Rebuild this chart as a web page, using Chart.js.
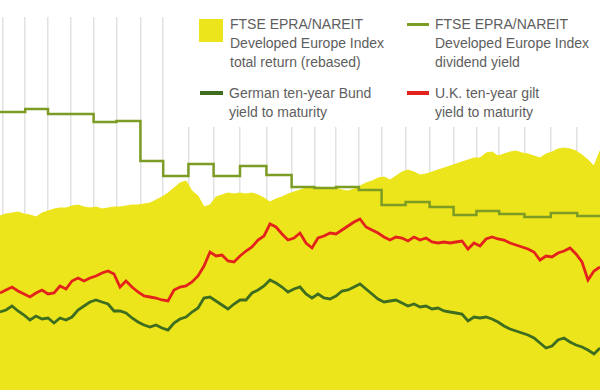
<!DOCTYPE html>
<html><head><meta charset="utf-8">
<script src="https://cdn.jsdelivr.net/npm/chart.js@4/dist/chart.umd.min.js"></script>
<style>
html,body{margin:0;padding:0;background:#fff;}
#wrap{position:relative;width:600px;height:390px;overflow:hidden;}
canvas{display:block;}
#legend{position:absolute;left:175px;top:0;width:425px;height:127px;background:#fff;font-family:"Liberation Sans",Arial,sans-serif;font-size:14px;line-height:19.2px;color:#5e5e5e;}
.txt{position:absolute;white-space:nowrap;}
.sw{position:absolute;}
</style></head><body>
<div id="wrap">
<canvas id="c" width="600" height="390"></canvas>
<div id="legend"></div>
</div>
<script>
// Trading-day index at which each month starts (vertical grid lines)
const monthStarts = [2, 21, 40, 59, 78, 97, 117, 136, 157, 178, 200, 222, 243, 262, 280, 299, 318, 338, 358, 378, 397, 416, 437, 459, 481];
const dayMax = 500;
const sampleStep = 5; // one reading every 5 trading days

// FTSE EPRA/NAREIT Developed Europe Index total return (rebased)
const totalReturn = [98.5, 99.5, 100, 100.5, 99.5, 99, 98, 100, 101, 102,
  102.5, 102.5, 103.5, 104, 103, 102.5, 103, 102, 102.5, 103,
  103, 103.5, 104, 104, 104.5, 105, 106.5, 108, 110, 112.5,
  115, 116, 111, 108.5, 103, 104, 108, 109, 110, 109.5,
  110, 109.5, 110, 109, 107.5, 105.5, 107, 108, 109.5, 110.5,
  111.5, 112.5, 112.5, 113, 112.5, 112, 112.5, 111.5, 111, 112,
  113.5, 115, 116, 117.5, 118, 116.5, 118.5, 120.5, 121.5, 120.5,
  119, 119.5, 120.5, 121.5, 122.5, 123.5, 124.5, 125.5, 126.5, 127.5,
  127.5, 130, 130.5, 128.5, 129.5, 130.5, 131, 130, 129.5, 128.5,
  127.5, 129.5, 130.5, 132, 132.5, 132, 131, 129, 126.5, 123.5,
  131];

// Dividend yield (%), one value per month (monthly steps)
const divYield = [3.38, 3.41, 3.36, 3.36, 3.28, 3.29, 2.89, 2.74, 2.86, 2.74, 2.84, 2.75, 2.63, 2.62, 2.63, 2.60, 2.45, 2.48, 2.43, 2.35, 2.39, 2.36, 2.33, 2.37, 2.34];

// U.K. ten-year gilt yield to maturity (%)
const giltYield = [1.57, 1.60, 1.63, 1.59, 1.56, 1.53, 1.57, 1.60, 1.56, 1.57,
  1.64, 1.61, 1.69, 1.72, 1.69, 1.72, 1.74, 1.77, 1.79, 1.76,
  1.63, 1.69, 1.63, 1.58, 1.54, 1.53, 1.52, 1.50, 1.49, 1.60,
  1.63, 1.64, 1.68, 1.74, 1.84, 1.98, 1.94, 1.95, 1.89, 1.88,
  1.94, 1.99, 2.03, 2.10, 2.14, 2.26, 2.23, 2.16, 2.10, 2.12,
  2.17, 2.07, 2.02, 2.12, 2.14, 2.17, 2.16, 2.20, 2.24, 2.28,
  2.31, 2.23, 2.20, 2.17, 2.13, 2.10, 2.13, 2.12, 2.09, 2.13,
  2.10, 2.12, 2.08, 2.07, 2.08, 2.07, 2.08, 2.09, 2.01, 2.07,
  2.04, 2.11, 2.13, 2.11, 2.10, 2.07, 2.05, 2.03, 2.01, 1.98,
  1.90, 1.94, 1.93, 1.97, 1.99, 2.02, 1.96, 1.88, 1.70, 1.79,
  1.83];

// German ten-year Bund yield to maturity (%)
const bundYield = [1.38, 1.40, 1.44, 1.39, 1.35, 1.30, 1.34, 1.31, 1.32, 1.27,
  1.32, 1.30, 1.33, 1.40, 1.44, 1.48, 1.50, 1.48, 1.46, 1.39,
  1.39, 1.37, 1.32, 1.28, 1.25, 1.23, 1.25, 1.22, 1.20, 1.27,
  1.31, 1.33, 1.38, 1.42, 1.52, 1.53, 1.49, 1.45, 1.41, 1.46,
  1.50, 1.50, 1.57, 1.60, 1.64, 1.70, 1.67, 1.63, 1.58, 1.61,
  1.63, 1.56, 1.52, 1.56, 1.52, 1.51, 1.54, 1.59, 1.60, 1.63,
  1.66, 1.61, 1.56, 1.51, 1.48, 1.49, 1.50, 1.47, 1.44, 1.46,
  1.43, 1.44, 1.41, 1.42, 1.39, 1.38, 1.37, 1.36, 1.29, 1.33,
  1.32, 1.33, 1.31, 1.28, 1.24, 1.21, 1.19, 1.17, 1.15, 1.12,
  1.07, 1.02, 1.04, 1.10, 1.12, 1.08, 1.05, 1.03, 1.00, 0.96,
  1.02];

const legendLabels = [
  'FTSE EPRA/NAREIT<br>Developed Europe Index<br>total return (rebased)',
  'FTSE EPRA/NAREIT<br>Developed Europe Index<br>dividend yield',
  'German ten-year Bund<br>yield to maturity',
  'U.K. ten-year gilt<br>yield to maturity'
];

const colors = { index: '#ece51c', div: '#7c9c24', bund: '#3f6d1f', gilt: '#e3221c', grid: '#e2e2e2' };

const toXY = arr => arr.map((v, i) => ({ x: i * sampleStep, y: v }));
const divPts = [{ x: 0, y: divYield[0] }]
  .concat(monthStarts.map((d, i) => ({ x: d, y: divYield[i] })))
  .concat([{ x: dayMax, y: divYield[divYield.length - 1] }]);

new Chart(document.getElementById('c'), {
  type: 'line',
  data: {
    datasets: [
      { label: 'gilt', data: toXY(giltYield), yAxisID: 'yy', borderColor: colors.gilt, borderWidth: 2.8, pointRadius: 0, tension: 0, fill: false, order: 1 },
      { label: 'bund', data: toXY(bundYield), yAxisID: 'yy', borderColor: colors.bund, borderWidth: 2.8, pointRadius: 0, tension: 0, fill: false, order: 2 },
      { label: 'div', data: divPts, yAxisID: 'yy', borderColor: colors.div, borderWidth: 2.5, pointRadius: 0, stepped: true, fill: false, order: 3 },
      { label: 'index', data: toXY(totalReturn), yAxisID: 'yi', borderColor: colors.index, backgroundColor: colors.index, borderWidth: 1, pointRadius: 0, tension: 0, fill: 'start', order: 4 }
    ]
  },
  options: {
    responsive: false,
    animation: false,
    devicePixelRatio: 1,
    layout: { padding: { top: 17, left: 0, right: 0, bottom: 0 } },
    plugins: { legend: { display: false }, tooltip: { enabled: false } },
    scales: {
      x: {
        type: 'linear', min: 0, max: dayMax,
        ticks: { display: false },
        grid: { color: colors.grid, lineWidth: 1.5, drawTicks: false },
        border: { display: false },
        afterBuildTicks: s => { s.ticks = monthStarts.map(v => ({ value: v })); }
      },
      yi: { display: false, min: 11.5, max: 198 },
      yy: { display: false, min: 0.60, max: 4.33 }
    }
  }
});

// Legend (real text)
const lg = document.getElementById('legend');
const items = [
  { sw: { left: 24, top: 19, width: 24, height: 23, bg: colors.index }, txt: { left: 55, top: 15 } },
  { sw: { left: 232, top: 22.5, width: 22, height: 3.5, bg: colors.div }, txt: { left: 260, top: 15 } },
  { sw: { left: 25, top: 91, width: 23, height: 3.5, bg: colors.bund }, txt: { left: 54, top: 84 } },
  { sw: { left: 232, top: 91, width: 22, height: 3.5, bg: colors.gilt }, txt: { left: 260, top: 84 } }
];
items.forEach((it, i) => {
  const s = document.createElement('div');
  s.className = 'sw';
  Object.assign(s.style, { left: it.sw.left + 'px', top: it.sw.top + 'px', width: it.sw.width + 'px', height: it.sw.height + 'px', background: it.sw.bg });
  lg.appendChild(s);
  const t = document.createElement('div');
  t.className = 'txt';
  t.style.left = it.txt.left + 'px';
  t.style.top = it.txt.top + 'px';
  t.innerHTML = legendLabels[i];
  lg.appendChild(t);
});
</script>
</body></html>
